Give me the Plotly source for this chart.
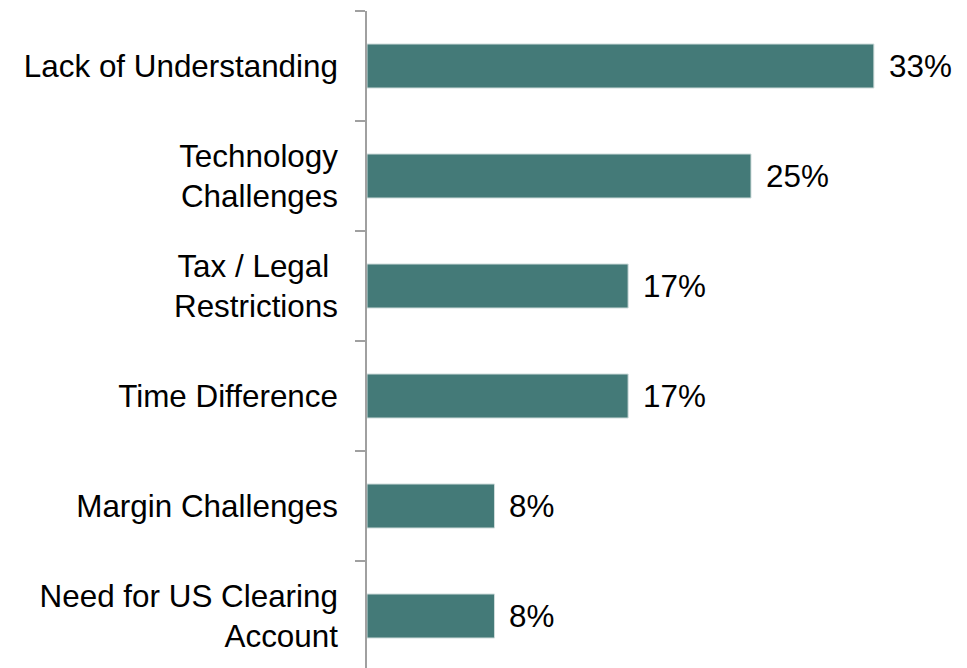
import plotly.graph_objects as go

categories = [
    "Lack of Understanding",
    "Technology<br>Challenges",
    "Tax / Legal\u00a0<br>Restrictions",
    "Time Difference",
    "Margin Challenges",
    "Need for US Clearing<br>Account",
]
values = [33, 25, 17, 17, 8.3, 8.3]
value_labels = ["33%", "25%", "17%", "17%", "8%", "8%"]

FONT = "Liberation Sans, Arial, sans-serif"
FS = 31.4
BAR = "#447a78"

fig = go.Figure()
fig.add_trace(go.Bar(
    y=categories,
    x=values,
    orientation="h",
    width=0.4,
    marker=dict(color=BAR, line=dict(color="#cfdcdb", width=1)),
    hoverinfo="skip",
))

for c, v, t in zip(categories, values, value_labels):
    fig.add_annotation(
        x=v, y=c, xref="x", yref="y", text=t, showarrow=False,
        xanchor="left", yanchor="middle", xshift=13,
        font=dict(family=FONT, size=FS, color="#000000"),
    )

# page body has an 8px default margin, so the figure is offset by 8px
fig.update_layout(
    width=967, height=668,
    margin=dict(l=359, r=8, t=3, b=8, autoexpand=False),
    paper_bgcolor="white", plot_bgcolor="white",
    showlegend=False,
    font=dict(family=FONT, size=FS, color="#000000"),
    bargap=0.6,
)
fig.update_xaxes(
    range=[0, 600 / 15.36], visible=False, showgrid=False, zeroline=False,
    automargin=False,
)
fig.update_yaxes(
    categoryorder="array", categoryarray=list(reversed(categories)),
    range=[5.5 - 657 / 110, 5.5], automargin=False,
    tickson="boundaries", ticks="outside", ticklen=10, tickwidth=1.5,
    tickcolor="#a0a0a0", showline=True, linecolor="#a0a0a0", linewidth=1.5,
    showgrid=False, zeroline=False, ticklabelstandoff=21,
    tickfont=dict(family=FONT, size=FS, color="#000000"),
)

fig.write_html("out.html")
